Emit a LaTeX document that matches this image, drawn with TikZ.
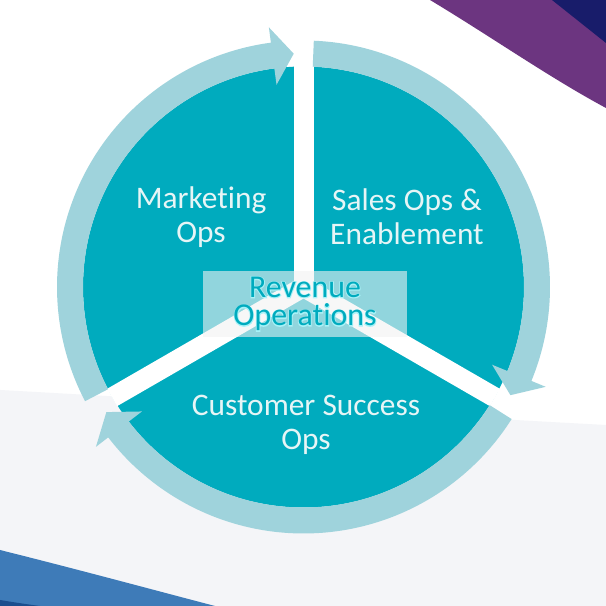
\documentclass[tikz,border=0pt]{standalone}
\usepackage{fontspec}
\setmainfont[Ligatures=NoCommon]{Carlito}
\newfontfamily\glowfont[Ligatures=NoCommon, FakeBold=5]{Carlito}
\definecolor{rvteal}{HTML}{00ABBE}
\definecolor{rvring}{HTML}{9FD3DC}
\definecolor{rvglow}{HTML}{A8F2F7}
\definecolor{rvtext}{HTML}{E6F5F6}
\definecolor{rvpurple}{HTML}{6C3580}
\definecolor{rvnavy}{HTML}{181C6A}
\definecolor{rvblue}{HTML}{3E7BB8}
\definecolor{rvdeep}{HTML}{1B4E8E}
\definecolor{rvgray}{HTML}{F4F5F8}
\definecolor{rvbox}{HTML}{F2F2F2}

% ring arrow: #1 start angle, #2 tip angle (clockwise)
\newcommand{\ringarrow}[2]{%
  \fill[rvring] (#1:246.5) arc[start angle=#1, end angle=#2+5.2, radius=246.5]
    -- (#2+5.2:262) -- (#2:233.5) -- (#2+5.2:204) -- (#2+5.2:220.5)
    arc[start angle=#2+5.2, end angle=#1, radius=220.5] -- cycle;}
% glowing word
\newcommand{\glowword}[1]{\rlap{\glowfont\color{rvglow}#1}#1}

\begin{document}
\begin{tikzpicture}[
      x=1bp, y=1bp,
      seglabel/.style={text=rvtext, align=center, inner sep=0pt,
                       font=\fontsize{31.5}{34.5}\selectfont},
      revbox/.style={fill=rvbox, fill opacity=0.6, text opacity=1,
                     minimum width=204bp, minimum height=66bp, inner sep=0pt,
                     text=rvteal, align=center,
                     font=\fontsize{32}{28.5}\selectfont},
      spoke/.style={white, line width=20bp},
    ]
    \useasboundingbox (0,0) rectangle (606,606);
    % background
    \fill[white] (0,0) rectangle (606,606);
    \fill[rvgray] (0,0) -- (0,216) .. controls (200,205) and (400,192) .. (606,181) -- (606,0) -- cycle;
    \fill[rvblue] (0,0) -- (0,56) .. controls (80,36) and (150,17) .. (215,0) -- cycle;
    \fill[rvdeep] (0,0) -- (0,6) .. controls (12,4) and (25,2) .. (40,0) -- cycle;
    \fill[rvpurple] (430,606) .. controls (490,570) and (550,528) .. (606,498) -- (606,606) -- cycle;
    \fill[rvnavy] (552,606) -- (606,563) -- (606,606) -- cycle;

    % wheel
    \begin{scope}[shift={(303.5,319)}]
      \fill[rvteal] (0,0) circle[radius=220.5];
      \coordinate (c) at (0,0);
      \foreach \a in {90,210,330}
        \draw[spoke] (c) -- (\a:221);
      \ringarrow{207.6}{92.4}
      \ringarrow{87.6}{-27.6}
      \ringarrow{-32.4}{-147.6}
    \end{scope}

    % labels
    \node[seglabel] (mkt)   at (201,389) {Marketing\\Ops};
    \node[seglabel] (sales) at (407,389) {Sales Ops \&\\Enablement};
    \node[seglabel] (cs)    at (306,181) {Customer Success\\Ops};
    \node[revbox]   (rev)   at (305,302) {\glowword{Revenue}\\\glowword{Operations}};
  \end{tikzpicture}
\end{document}
